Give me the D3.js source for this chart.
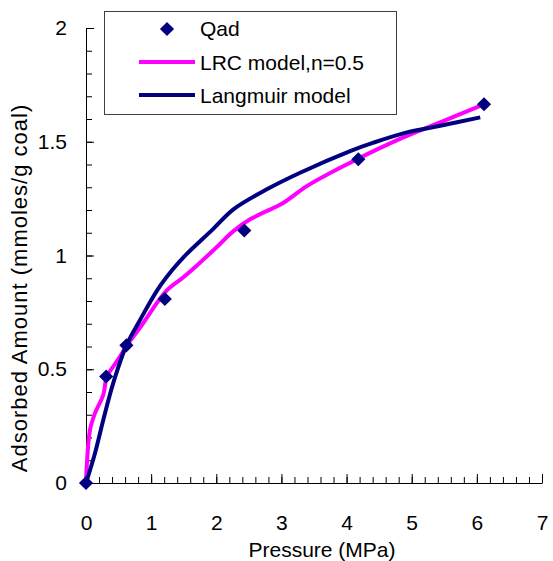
<!DOCTYPE html>
<html>
<head>
<meta charset="utf-8">
<script src="https://cdn.jsdelivr.net/npm/d3@7"></script>
<style>
  body { margin: 0; background: #fff; }
  svg { display: block; font-family: "Liberation Sans", Arial, sans-serif; }
</style>
</head>
<body>
<svg></svg>
<script>
// measured data (pressure in MPa, adsorbed amount in mmoles/g coal)
const qadP = [0, 0.31, 0.62, 1.21, 2.43, 4.18, 6.11];
const qadQ = [0, 0.468, 0.605, 0.809, 1.11, 1.423, 1.665];

// LRC model, n=0.5
const lrcP = [0, 0.011, 0.061, 0.138, 0.266, 0.318, 0.384, 0.522, 0.614, 0.845, 1.229, 1.485, 1.69, 1.997, 2.263, 2.519, 3.031, 3.39, 4.055, 4.413, 4.926, 5.438, 6.052];
const lrcQ = [0, 0.072, 0.233, 0.307, 0.388, 0.468, 0.498, 0.556, 0.6, 0.689, 0.843, 0.902, 0.953, 1.034, 1.107, 1.159, 1.232, 1.305, 1.408, 1.459, 1.526, 1.585, 1.658];

// Langmuir model
const langP = [0, 0.138, 0.266, 0.419, 0.625, 0.819, 1.1, 1.33, 1.536, 1.946, 2.263, 2.776, 3.287, 4.055, 4.413, 4.926, 5.438, 6.052];
const langQ = [0, 0.131, 0.278, 0.44, 0.608, 0.711, 0.85, 0.938, 1.004, 1.115, 1.203, 1.291, 1.364, 1.459, 1.496, 1.541, 1.57, 1.607];

const xTicks = [0, 1, 2, 3, 4, 5, 6, 7];
const yTicks = [0, 0.5, 1, 1.5, 2];
const yTickLabels = ["0", "0.5", "1", "1.5", "2"];
const legendNames = ["Qad", "LRC model,n=0.5", "Langmuir model"];

const pink = "#ff00ff";
const navy = "#000080";

let svg = d3.select("svg").attr("width", 553).attr("height", 561);

let x = d3.scaleLinear().domain([0, 7]).range([86, 542]);
let y = d3.scaleLinear().domain([0, 2]).range([483, 28]);

// minor ticks first, then the major ones on top
svg.append("g")
  .attr("transform", "translate(0,483)")
  .call(d3.axisBottom(x).tickValues(d3.range(0, 7.01, 0.2)).tickSizeInner(-6).tickSizeOuter(0).tickFormat(""))
  .call(g => g.select(".domain").remove());
svg.append("g")
  .attr("transform", "translate(86,0)")
  .call(d3.axisLeft(y).tickValues(d3.range(0, 2.001, 0.1)).tickSizeInner(-6).tickSizeOuter(0).tickFormat(""))
  .call(g => g.select(".domain").remove());

let xAxis = svg.append("g")
  .attr("transform", "translate(0,483)")
  .call(d3.axisBottom(x).tickValues(xTicks).tickSizeInner(-9).tickSizeOuter(0).tickPadding(32).tickFormat(d3.format("d")));
let yAxis = svg.append("g")
  .attr("transform", "translate(86,0)")
  .call(d3.axisLeft(y).tickValues(yTicks).tickSizeInner(-8).tickSizeOuter(0).tickPadding(19)
    .tickFormat((d, i) => yTickLabels[i]));

svg.selectAll(".tick line").attr("stroke", "#000").attr("stroke-width", 1);
svg.selectAll(".domain").attr("stroke", "#000").attr("stroke-width", 1);
svg.selectAll(".tick text").attr("font-size", 21).attr("fill", "#000").attr("font-family", null);

// axis titles
svg.append("text")
  .attr("x", 322)
  .attr("y", 557)
  .attr("text-anchor", "middle")
  .attr("font-size", 21)
  .text("Pressure (MPa)");
svg.append("text")
  .attr("transform", "translate(27,288) rotate(-90)")
  .attr("text-anchor", "middle")
  .attr("font-size", 22)
  .attr("letter-spacing", 1)
  .text("Adsorbed Amount (mmoles/g coal)");

// model curves
let line = d3.line().x(d => x(d[0])).y(d => y(d[1])).curve(d3.curveCatmullRom);

svg.append("path")
  .datum(d3.zip(lrcP, lrcQ))
  .attr("d", line)
  .attr("fill", "none")
  .attr("stroke", pink)
  .attr("stroke-width", 4)
  .attr("stroke-linejoin", "round");

svg.append("path")
  .datum(d3.zip(langP, langQ))
  .attr("d", line)
  .attr("fill", "none")
  .attr("stroke", navy)
  .attr("stroke-width", 4)
  .attr("stroke-linejoin", "round");

// measured points
let diamond = d3.symbol().type(d3.symbolSquare).size(100);
svg.append("g")
  .selectAll("path")
  .data(d3.zip(qadP, qadQ))
  .enter()
  .append("path")
  .attr("d", diamond)
  .attr("transform", d => `translate(${x(d[0])},${y(d[1])}) rotate(45)`)
  .attr("fill", navy);

// legend
let legend = svg.append("g");
legend.append("rect")
  .attr("x", 104.5)
  .attr("y", 11.5)
  .attr("width", 292)
  .attr("height", 103)
  .attr("fill", "#fff")
  .attr("stroke", "#404040");

legend.append("path")
  .attr("d", diamond)
  .attr("transform", "translate(167,29) rotate(45)")
  .attr("fill", navy);
legend.append("line")
  .attr("x1", 139).attr("x2", 195).attr("y1", 62).attr("y2", 62)
  .attr("stroke", pink).attr("stroke-width", 4);
legend.append("line")
  .attr("x1", 139).attr("x2", 195).attr("y1", 95).attr("y2", 95)
  .attr("stroke", navy).attr("stroke-width", 4);

legend.selectAll("text")
  .data(legendNames)
  .enter()
  .append("text")
  .attr("x", 200)
  .attr("y", (d, i) => 36 + i * 33.5)
  .attr("font-size", 21)
  .text(d => d);
</script>
</body>
</html>
